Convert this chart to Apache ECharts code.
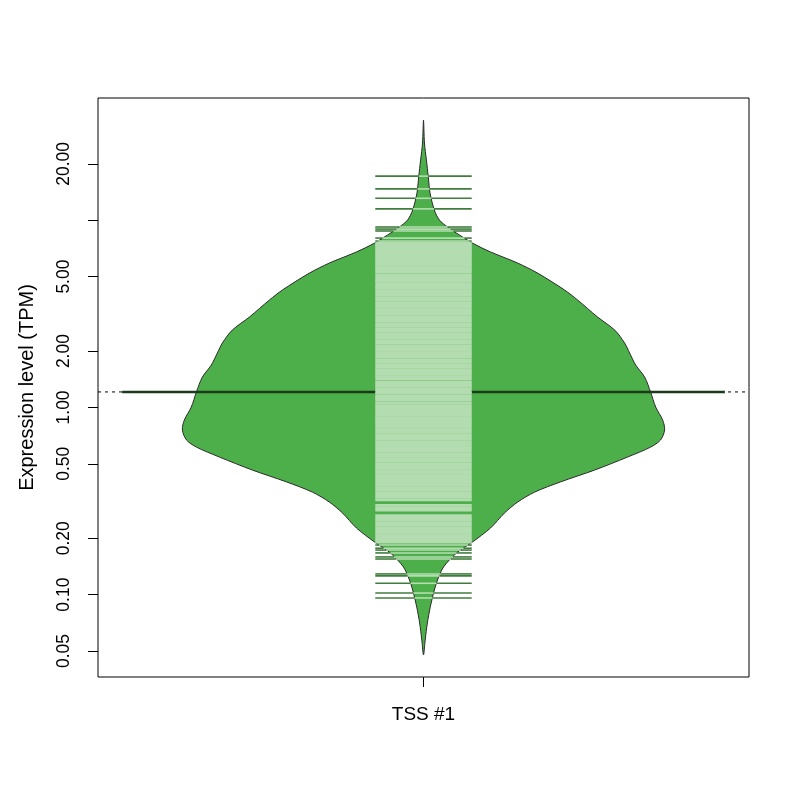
<!DOCTYPE html>
<html><head><meta charset="utf-8">
<script src="https://cdn.jsdelivr.net/npm/echarts@6/dist/echarts.min.js"></script>
<style>html,body{margin:0;padding:0;background:#fff}#c{width:800px;height:800px}</style>
</head><body><div id="c"></div>
<script>
const category = 'TSS #1';
const yAxisTitle = 'Expression level (TPM)';
const yTickValues = [0.05, 0.1, 0.2, 0.5, 1, 2, 5, 10, 20];
const yTickLabels = ['0.05', '0.10', '0.20', '0.50', '1.00', '2.00', '5.00', '', '20.00'];

// bean outline: expression level (TPM) and relative density (1 = widest)
const densityTPM = [34.3, 25.85, 20.97, 17.01, 13.98, 11.34, 10.02, 9.20, 8.34, 7.55, 6.77, 5.91, 5.22, 4.24, 3.75, 3.04, 2.59, 2.21, 1.953, 1.685, 1.454, 1.208, 1.005, 0.856, 0.757, 0.670, 0.614, 0.543, 0.463, 0.400, 0.353, 0.312, 0.273, 0.227, 0.191, 0.167, 0.1404, 0.1197, 0.1058, 0.0858, 0.0705, 0.0572, 0.0476];
const densityRel = [0, 0.004, 0.012, 0.020, 0.027, 0.045, 0.066, 0.100, 0.149, 0.203, 0.278, 0.390, 0.473, 0.585, 0.639, 0.722, 0.793, 0.834, 0.855, 0.880, 0.917, 0.942, 0.963, 0.992, 1.000, 0.983, 0.942, 0.846, 0.710, 0.568, 0.461, 0.390, 0.336, 0.278, 0.203, 0.137, 0.083, 0.058, 0.045, 0.028, 0.016, 0.007, 0];

// individual observations (bean lines), TPM
const beanValuesHigh = [17.2, 14.7, 13.1, 11.5, 9.2, 8.97, 8.76, 8.03, 7.74, 7.55];
const beanValuesMid = [7.38, 7.21, 7.02, 6.88, 6.71, 6.55, 6.36, 6.22, 6.05, 5.89, 5.74, 5.58, 5.44, 5.31, 5.12, 4.98, 4.83, 4.71, 4.57, 4.44, 4.33, 4.20, 4.08, 3.97, 3.85, 3.74, 3.63, 3.53, 3.42, 3.33, 3.23, 3.14, 3.05, 2.96, 2.88, 2.79, 2.71, 2.63, 2.56, 2.48, 2.41, 2.34, 2.27, 2.21, 2.14, 2.08, 2.02, 1.96, 1.90, 1.85, 1.79, 1.74, 1.69, 1.64, 1.59, 1.55, 1.50, 1.46, 1.42, 1.37, 1.33, 1.30, 1.26, 1.22, 1.19, 1.15, 1.12, 1.09, 1.05, 1.02, 0.992, 0.963, 0.935, 0.908, 0.881, 0.856, 0.831, 0.806, 0.783, 0.760, 0.738, 0.716, 0.695, 0.675, 0.655, 0.636, 0.617, 0.599, 0.582, 0.565, 0.548, 0.532, 0.517, 0.501, 0.487, 0.473, 0.459, 0.445, 0.432, 0.420, 0.407, 0.395, 0.384, 0.373, 0.362, 0.351, 0.341, 0.331, 0.321, 0.300, 0.291, 0.283, 0.264, 0.256, 0.249, 0.242, 0.235, 0.228, 0.221, 0.215, 0.209, 0.203, 0.197, 0.191];
const beanValuesLow = [0.184, 0.177, 0.173, 0.167, 0.159, 0.155, 0.129, 0.126, 0.115, 0.102, 0.096];
const beanAverage = 1.21;

const L10 = Math.log10;
const yMin = -1.44, yMax = 1.653;
const xMin = 0.46, xMax = 1.54;
const center = 1, maxHalf = 0.4, lineHalf = 0.08, avgHalf = 0.5;
const FONT = "'Liberation Sans', Arial, Helvetica, sans-serif";

function halfWidthAt(v) {
  const l = L10(v);
  for (let i = 0; i < densityTPM.length - 1; i++) {
    const a = L10(densityTPM[i]), b = L10(densityTPM[i + 1]);
    if (l <= a && l >= b) {
      const t = (a - l) / (a - b);
      return maxHalf * (densityRel[i] + t * (densityRel[i + 1] - densityRel[i]));
    }
  }
  return 0;
}

const beanValues = beanValuesHigh.concat(beanValuesMid, beanValuesLow);
const chart = echarts.init(document.getElementById('c'), null, { renderer: 'canvas' });

const option = {
  animation: false,
  textStyle: { fontFamily: FONT },
  grid: { left: 98, right: 51, top: 98, bottom: 123, show: true, borderColor: '#000', borderWidth: 1, backgroundColor: 'transparent', containLabel: false, outerBoundsMode: 'none' },
  xAxis: {
    type: 'value', min: xMin, max: xMax,
    axisLine: { show: false }, splitLine: { show: false },
    axisTick: { show: true, customValues: [center], length: 10, lineStyle: { color: '#000', width: 1 } },
    axisLabel: { show: true, customValues: [center], formatter: () => category, margin: 28, fontSize: 19, color: '#000', fontFamily: FONT }
  },
  yAxis: {
    type: 'value', min: yMin, max: yMax,
    axisLine: { show: false }, splitLine: { show: false },
    axisTick: { show: true, customValues: yTickValues.map(L10), length: 10, lineStyle: { color: '#000', width: 1 } },
    axisLabel: {
      show: true, customValues: yTickValues.map(L10), rotate: 90, margin: 25, fontSize: 17.5, color: '#000', fontFamily: FONT,
      formatter: (val) => { for (let i = 0; i < yTickValues.length; i++) { if (Math.abs(L10(yTickValues[i]) - val) < 1e-6) return yTickLabels[i]; } return ''; }
    },
    name: yAxisTitle, nameLocation: 'middle', nameGap: 61,
    nameTextStyle: { fontSize: 20, color: '#000', fontFamily: FONT }
  },
  series: [
    {
      type: 'line', z: 1, silent: true, symbol: 'none',
      data: [[xMin, L10(beanAverage)], [xMax, L10(beanAverage)]],
      lineStyle: { color: '#000', width: 1, type: [3, 4] }
    },
    {
      type: 'custom', z: 2, silent: true, clip: true,
      data: [[center, 0]],
      renderItem: (params, api) => {
        const right = [], left = [];
        for (let i = 0; i < densityTPM.length; i++) {
          const l = L10(densityTPM[i]), w = maxHalf * densityRel[i];
          right.push(api.coord([center + w, l]));
        }
        for (let i = densityTPM.length - 1; i >= 0; i--) {
          const l = L10(densityTPM[i]), w = maxHalf * densityRel[i];
          left.push(api.coord([center - w, l]));
        }
        return {
          type: 'polygon',
          shape: { points: right.concat(left.slice(1, -1)), smooth: 0.3 },
          style: { fill: '#4DAF4A', stroke: '#2a2a2a', lineWidth: 1 }
        };
      }
    },
    {
      type: 'line', z: 3, silent: true, symbol: 'none',
      data: [[center - avgHalf, L10(beanAverage)], [center + avgHalf, L10(beanAverage)]],
      lineStyle: { color: '#1c3a1c', width: 2.5 }
    },
    {
      type: 'custom', z: 4, silent: true, clip: true,
      data: beanValues.map(v => [center, L10(v)]),
      renderItem: (params, api) => {
        const l = api.value(1);
        const v = Math.pow(10, l);
        const w = Math.min(halfWidthAt(v), lineHalf);
        const children = [];
        const pInL = api.coord([center - w, l]), pInR = api.coord([center + w, l]);
        const pOutL = api.coord([center - lineHalf, l]), pOutR = api.coord([center + lineHalf, l]);
        if (w < lineHalf) {
          children.push({ type: 'line', shape: { x1: pOutL[0], y1: pOutL[1], x2: pInL[0], y2: pInL[1] }, style: { stroke: '#3f7d3d', lineWidth: 1.6 } });
          children.push({ type: 'line', shape: { x1: pInR[0], y1: pInR[1], x2: pOutR[0], y2: pOutR[1] }, style: { stroke: '#3f7d3d', lineWidth: 1.6 } });
        }
        if (w > 0) {
          children.push({ type: 'line', shape: { x1: pInL[0], y1: pInL[1], x2: pInR[0], y2: pInR[1] }, style: { stroke: '#b3ddb0', lineWidth: w < lineHalf ? 1.6 : 2.8 } });
        }
        return { type: 'group', children };
      }
    },
    {
      // x-axis tick mark under the bean
      type: 'custom', z: 5, silent: true, clip: false,
      data: [[center, yMin]],
      renderItem: (params, api) => {
        const p = api.coord([api.value(0), api.value(1)]);
        const x = Math.round(p[0]) + 0.5;
        return { type: 'line', shape: { x1: x, y1: p[1], x2: x, y2: p[1] + 10 }, style: { stroke: '#000', lineWidth: 1 } };
      }
    }
  ]
};
chart.setOption(option);
</script>
</body></html>
